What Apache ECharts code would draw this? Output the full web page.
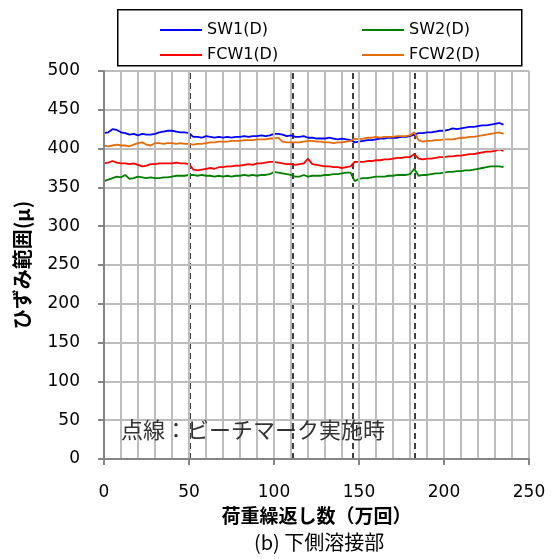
<!DOCTYPE html>
<html>
<head>
<meta charset="utf-8">
<script src="https://cdn.jsdelivr.net/npm/echarts@6/dist/echarts.min.js"></script>
<style>
    body { margin: 0; background: #fff; }
    #main { width: 551px; height: 559px; }
</style>
</head>
<body>
<div id="main"></div>
<script>
// 荷重繰返し数(万回)
var cycles = [0, 2.5, 5, 7.5, 10, 12.5, 15, 17.5, 20, 22.5, 25, 27.5, 30, 32.5, 35, 37.5, 40, 42.5, 45, 47.5,
    50, 52.5, 55, 57.5, 60, 62.5, 65, 67.5, 70, 72.5, 75, 77.5, 80, 82.5, 85, 87.5, 90, 92.5, 95, 97.5,
    100, 102.5, 105, 107.5, 110, 112.5, 115, 117.5, 120, 122.5, 125, 127.5, 130, 132.5, 135, 137.5, 140, 142.5, 145, 147.5,
    150, 152.5, 155, 157.5, 160, 162.5, 165, 167.5, 170, 172.5, 175, 177.5, 180, 182.5, 185, 187.5, 190, 192.5, 195, 197.5,
    200, 202.5, 205, 207.5, 210, 212.5, 215, 217.5, 220, 222.5, 225, 227.5, 230, 232.5, 235];

var sw1 = [420, 421, 425, 424, 421, 420, 418, 419, 417, 419, 418, 418, 419, 421, 422, 423, 423, 422, 421, 421,
    420, 415, 415, 414, 416, 415, 414, 415, 414, 415, 414, 415, 415, 416, 415, 416, 416, 417, 416, 417,
    419, 419, 418, 416, 417, 415, 415, 416, 414, 414, 413, 413, 413, 414, 413, 412, 413, 412, 411, 408,
    409, 410, 411, 411, 412, 413, 413, 414, 414, 414, 415, 415, 416, 418, 420, 420, 421, 421, 422, 423,
    423, 424, 426, 425, 426, 427, 428, 428, 429, 430, 430, 431, 432, 433, 431];

var sw2 = [358, 360, 362, 364, 363, 366, 361, 362, 364, 363, 362, 363, 362, 362, 363, 363, 364, 365, 365, 365,
    366, 366, 365, 366, 365, 365, 364, 365, 364, 365, 364, 365, 365, 366, 365, 366, 365, 366, 366, 367,
    370, 369, 368, 367, 366, 364, 364, 366, 364, 365, 365, 365, 366, 366, 367, 367, 368, 369, 369, 358,
    361, 362, 362, 363, 364, 364, 364, 365, 365, 366, 366, 366, 367, 374, 365, 366, 366, 367, 368, 368,
    369, 370, 370, 371, 371, 372, 372, 373, 374, 375, 376, 377, 377, 377, 376];

var fcw1 = [381, 382, 384, 382, 381, 381, 380, 381, 379, 377, 378, 380, 380, 381, 381, 381, 381, 382, 381, 381,
    380, 373, 372, 373, 374, 375, 374, 376, 376, 377, 377, 378, 378, 379, 380, 379, 381, 381, 382, 383,
    383, 382, 381, 380, 380, 379, 380, 381, 387, 380, 379, 378, 377, 377, 376, 376, 375, 376, 377, 383,
    383, 383, 384, 384, 385, 385, 386, 386, 387, 388, 388, 389, 389, 393, 387, 386, 387, 387, 388, 389,
    389, 390, 390, 391, 391, 392, 393, 393, 394, 395, 396, 396, 397, 399, 397];

var fcw2 = [404, 403, 404, 405, 404, 404, 403, 405, 407, 408, 405, 404, 407, 407, 406, 407, 407, 406, 407, 406,
    406, 405, 406, 406, 407, 408, 408, 409, 409, 409, 410, 410, 410, 411, 411, 411, 412, 412, 412, 413,
    413, 414, 409, 408, 408, 408, 408, 409, 410, 410, 409, 409, 408, 408, 407, 408, 408, 409, 410, 413,
    412, 413, 414, 414, 415, 414, 415, 415, 415, 416, 416, 416, 417, 421, 411, 409, 410, 410, 411, 411,
    412, 412, 412, 413, 414, 414, 415, 415, 416, 417, 418, 419, 420, 421, 419];

// ビーチマーク実施時
var beachMarks = [50.2, 111.3, 146.1, 182.8];

var seriesNames = ['SW1(D)', 'SW2(D)', 'FCW1(D)', 'FCW2(D)'];
var seriesData = [sw1, sw2, fcw1, fcw2];
var colors = ['#0000ff', '#008000', '#ff0000', '#e46c0a'];

var myChart = echarts.init(document.getElementById('main'));

var pairs = function (ys) {
    return cycles.map(function (x, i) {
        return [x, ys[i]];
    });
};

var legendAt = function (name, left, top) {
    return {
        data: [name],
        left: left,
        top: top,
        icon: 'rect',
        itemWidth: 42,
        itemHeight: 2,
        itemGap: 5,
        selectedMode: false,
        textStyle: {fontFamily: 'DejaVu Sans', fontSize: 16, color: '#000'}
    };
};

var series = seriesNames.map(function (name, i) {
    return {
        name: name,
        type: 'line',
        data: pairs(seriesData[i]),
        showSymbol: false,
        symbol: 'none',
        lineStyle: {width: 1.8, color: colors[i]},
        itemStyle: {color: colors[i]},
        z: 3
    };
});

series[0].markLine = {
    silent: true,
    symbol: ['none', 'none'],
    label: {show: false},
    lineStyle: {color: '#000', width: 1.5, type: [6, 4]},
    data: beachMarks.map(function (v) {
        return {xAxis: v};
    }),
    z: 2
};

var gridLine = {color: '#bdbdbd', width: 2};

var option = {
    animation: false,
    color: colors,
    grid: {left: 104, right: 22, top: 71, bottom: 100},
    legend: [
        legendAt(seriesNames[0], 155, 17),
        legendAt(seriesNames[1], 357, 17),
        legendAt(seriesNames[2], 155, 42),
        legendAt(seriesNames[3], 357, 42)
    ],
    xAxis: [{
        type: 'value',
        min: 0,
        max: 250,
        interval: 50,
        name: '荷重繰返し数（万回）',
        nameLocation: 'middle',
        nameGap: 41,
        nameTextStyle: {fontFamily: 'Noto Sans CJK JP', fontSize: 19, fontWeight: 'bold', color: '#000'},
        axisLine: {lineStyle: {color: '#868686', width: 2}},
        axisTick: {show: true, length: 6, lineStyle: {color: '#868686', width: 2}},
        axisLabel: {margin: 25, fontFamily: 'DejaVu Sans', fontSize: 17, color: '#000'},
        splitLine: {show: true, lineStyle: gridLine},
        z: 5
    }, {
        // 10万回ごとの補助目盛線
        type: 'value',
        position: 'bottom',
        min: 0,
        max: 250,
        interval: 10,
        axisLine: {show: false},
        axisTick: {show: false},
        axisLabel: {show: false},
        splitLine: {show: true, lineStyle: gridLine}
    }],
    yAxis: {
        type: 'value',
        min: 0,
        max: 500,
        interval: 50,
        name: 'ひずみ範囲(μ)',
        nameLocation: 'middle',
        nameGap: 72,
        nameTextStyle: {fontFamily: 'Noto Sans CJK JP', fontSize: 20, fontWeight: 'bold', color: '#000'},
        axisLine: {show: true, lineStyle: {color: '#868686', width: 2}},
        axisTick: {show: true, length: 6, lineStyle: {color: '#868686', width: 2}},
        axisLabel: {margin: 24, fontFamily: 'DejaVu Sans', fontSize: 17, color: '#000'},
        splitLine: {show: true, lineStyle: gridLine},
        z: 5
    },
    graphic: [
        {
            type: 'rect',
            left: 117,
            top: 9,
            shape: {width: 404, height: 56},
            style: {fill: 'transparent', stroke: '#000', lineWidth: 1.5},
            silent: true
        },
        {
            type: 'text',
            left: 121,
            top: 419,
            style: {text: '点線：ビーチマーク実施時', font: '22px "Noto Sans CJK JP"', fill: '#333'},
            silent: true,
            z: 10
        },
        {
            type: 'text',
            left: 254,
            top: 532,
            style: {text: '(b) 下側溶接部', font: '20px "Noto Sans CJK JP"', fill: '#000'},
            silent: true
        }
    ],
    series: series
};

myChart.setOption(option);
</script>
</body>
</html>
